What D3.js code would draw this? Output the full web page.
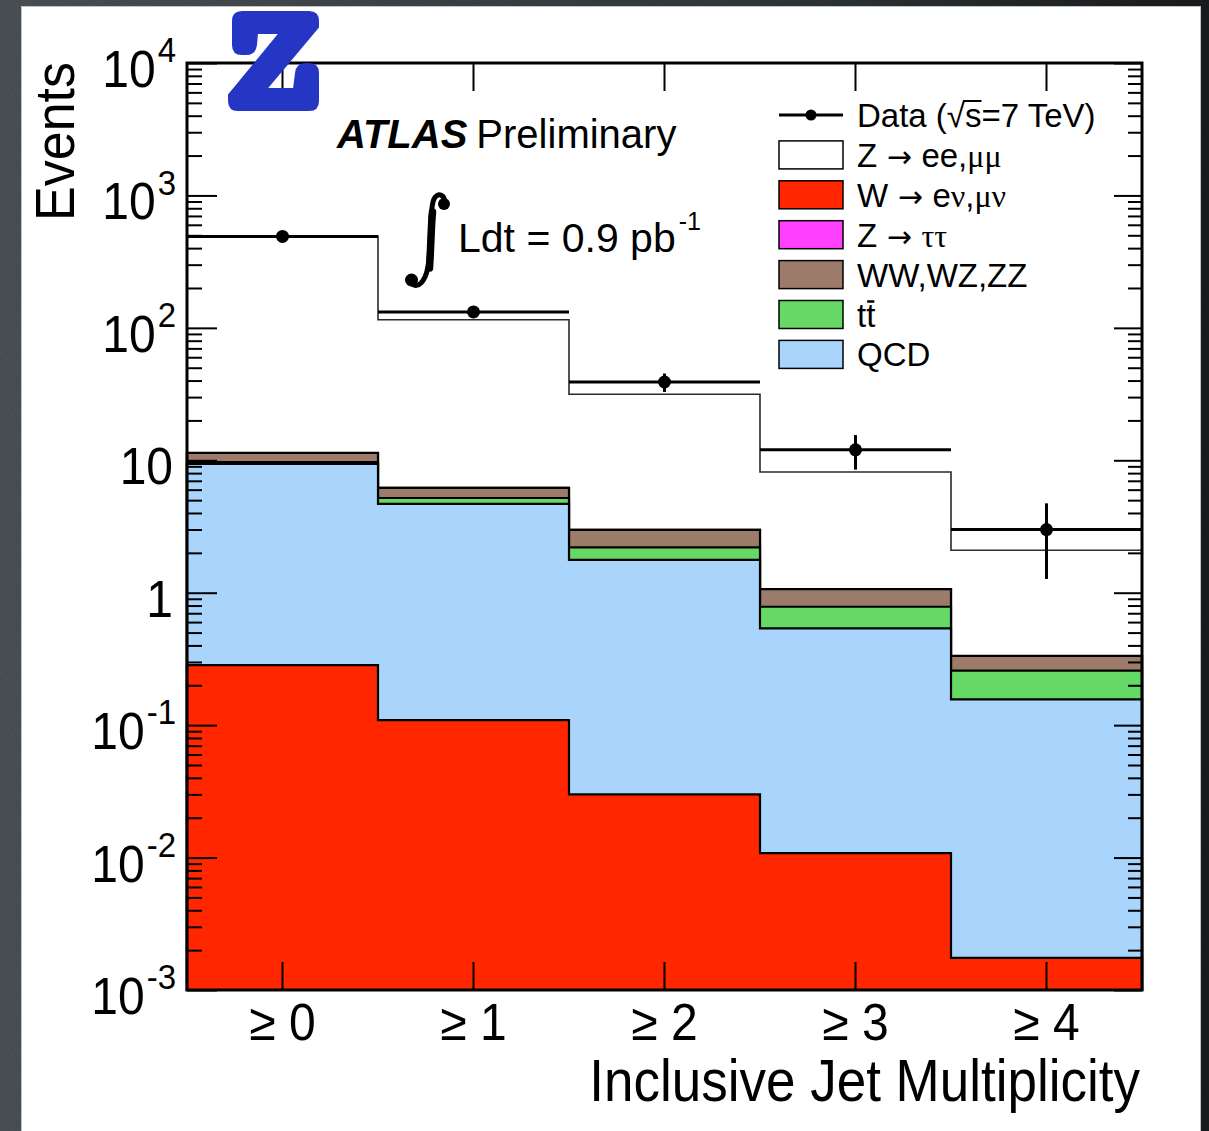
<!DOCTYPE html>
<html>
<head>
<meta charset="utf-8">
<script src="https://cdn.jsdelivr.net/npm/d3@7"></script>
<style>
  html, body { margin: 0; padding: 0; background: #3a3f42; }
  svg { display: block; }
  text { font-family: "Liberation Sans", Arial, Helvetica, sans-serif; fill: #000; }
</style>
</head>
<body>
<svg id="chart" width="1209" height="1131"></svg>
<script>
// Inclusive jet multiplicity in Z -> ll events, stacked expectation vs data
const categories = ["\u2265 0", "\u2265 1", "\u2265 2", "\u2265 3", "\u2265 4"];

const dataCounts = [490, 132, 39, 12, 3];
const dataErr    = [22, 11.5, 6.2, 3.5, 1.73];

// Expected contributions per bin (events)
const zllValues     = [483, 109, 28.5, 7.1, 1.76];
const zttValues     = [0.03, 0.01, 0.004, 0.0015, 0.0005];
const dibosonValues = [1.65, 0.99, 0.78, 0.28, 0.075];
const ttbarValues   = [0.32, 0.51, 0.43, 0.246, 0.101];
const qcdValues     = [9.10, 4.57, 1.74, 0.527, 0.155];
const wValues       = [0.284, 0.109, 0.030, 0.0108, 0.00175];

const seriesKeys   = ["W", "QCD", "ttbar", "diboson", "Ztautau", "Zll"]; // bottom -> top
const seriesColors = ["#ff2600", "#a9d5fd", "#66d866", "#9c7b6a", "#ff40ff", "#ffffff"];

const legendLabels = ["Z \u2192 ee,\u03bc\u03bc", "W \u2192 e\u03bd,\u03bc\u03bd", "Z \u2192 \u03c4\u03c4", "WW,WZ,ZZ", "tt", "QCD"];
const legendColors = ["#ffffff", "#ff2600", "#ff40ff", "#9c7b6a", "#66d866", "#a9d5fd"];

const yMajorTicks = [1e-3, 1e-2, 1e-1, 1, 10, 1e2, 1e3, 1e4];
const yTickBase   = ["10", "10", "10", "1", "10", "10", "10", "10"];
const yTickExp    = ["-3", "-2", "-1", "", "", "2", "3", "4"];

const W = 1209, H = 1131;
const plot = { left: 187, right: 1142, top: 63, bottom: 990 };

const svg = d3.select("#chart");
const defs = svg.append("defs");

// ---- backdrop: dark slate with grain, white sheet on top
const bg = defs.append("linearGradient").attr("id", "bgGrad").attr("x1", 0).attr("x2", 1).attr("y1", 0).attr("y2", 0);
bg.append("stop").attr("offset", "0%").attr("stop-color", "#50575b");
bg.append("stop").attr("offset", "60%").attr("stop-color", "#383d40");
bg.append("stop").attr("offset", "100%").attr("stop-color", "#1b1e20");
const grain = defs.append("filter").attr("id", "grain").attr("x", 0).attr("y", 0).attr("width", "100%").attr("height", "100%");
grain.append("feTurbulence").attr("type", "fractalNoise").attr("baseFrequency", 0.8).attr("numOctaves", 2).attr("seed", 3);
grain.append("feColorMatrix").attr("type", "matrix")
  .attr("values", "0 0 0 0 0  0 0 0 0 0  0 0 0 0 0  0 0 0 0.35 0");

svg.append("rect").attr("width", W).attr("height", H).attr("fill", "url(#bgGrad)");
svg.append("rect").attr("width", W).attr("height", H).attr("filter", "url(#grain)").attr("opacity", 0.6);
svg.append("rect").attr("x", 21).attr("y", 6).attr("width", 1180).attr("height", H).attr("fill", "#bfc3c5");
svg.append("rect").attr("x", 22).attr("y", 7).attr("width", 1178).attr("height", H).attr("fill", "#ffffff");

// ---- scales
const x = d3.scaleBand().domain(categories).range([plot.left, plot.right]).paddingInner(0).paddingOuter(0);
const y = d3.scaleLog().domain([1e-3, 1e4]).range([plot.bottom, plot.top]);
const yBase = y(1e-3);

// ---- stacked histograms
const rows = categories.map((c, i) => ({
  W: wValues[i], QCD: qcdValues[i], ttbar: ttbarValues[i],
  diboson: dibosonValues[i], Ztautau: zttValues[i], Zll: zllValues[i]
}));
const stacked = d3.stack().keys(seriesKeys)(rows);

const line = d3.line();
function stepOutline(tops) {
  const pts = [[x(categories[0]), yBase]];
  categories.forEach((c, i) => {
    pts.push([x(c), y(tops[i])]);
    pts.push([x(c) + x.bandwidth(), y(tops[i])]);
  });
  pts.push([x(categories[categories.length - 1]) + x.bandwidth(), yBase]);
  return line(pts) + "Z";
}

const histG = svg.append("g");
// Cumulative histograms drawn from the top of the stack downwards
for (let k = stacked.length - 1; k >= 0; k--) {
  const tops = stacked[k].map(d => d[1]);
  const isTop = seriesKeys[k] === "Zll";
  histG.append("path")
    .attr("d", stepOutline(tops))
    .attr("fill", seriesColors[k])
    .attr("stroke", isTop ? "#2a2a2a" : "#000")
    .attr("stroke-width", isTop ? 1.6 : 2.2)
    .attr("stroke-linejoin", "miter");
}

// ---- data points with error bars
const dataG = svg.append("g");
categories.forEach((c, i) => {
  const cx = x(c) + x.bandwidth() / 2;
  const cy = y(dataCounts[i]);
  dataG.append("line").attr("x1", x(c)).attr("x2", x(c) + x.bandwidth())
    .attr("y1", cy).attr("y2", cy).attr("stroke", "#000").attr("stroke-width", 3);
  dataG.append("line").attr("x1", cx).attr("x2", cx)
    .attr("y1", y(dataCounts[i] + dataErr[i])).attr("y2", y(dataCounts[i] - dataErr[i]))
    .attr("stroke", "#000").attr("stroke-width", 3);
  dataG.append("circle").attr("cx", cx).attr("cy", cy).attr("r", 6.5).attr("fill", "#000");
});

// ---- axes (ticks on all four sides)
const minorTicks = [];
for (let e = -3; e < 4; e++) for (let m = 2; m <= 9; m++) minorTicks.push(m * Math.pow(10, e));

const axG = svg.append("g");
axG.append("g").attr("transform", `translate(${plot.left},0)`)
  .call(d3.axisLeft(y).tickValues(yMajorTicks).tickSize(-30).tickFormat(""));
axG.append("g").attr("transform", `translate(${plot.left},0)`)
  .call(d3.axisLeft(y).tickValues(minorTicks).tickSize(-15).tickFormat(""));
axG.append("g").attr("transform", `translate(${plot.right},0)`)
  .call(d3.axisRight(y).tickValues(yMajorTicks).tickSize(-28).tickFormat(""));
axG.append("g").attr("transform", `translate(${plot.right},0)`)
  .call(d3.axisRight(y).tickValues(minorTicks).tickSize(-14).tickFormat(""));
axG.append("g").attr("transform", `translate(0,${plot.bottom})`)
  .call(d3.axisBottom(x).tickSize(-28).tickFormat(""));
axG.append("g").attr("transform", `translate(0,${plot.top})`)
  .call(d3.axisTop(x).tickSize(-28).tickFormat(""));
axG.selectAll(".domain").remove();
axG.selectAll(".tick line").attr("stroke", "#000").attr("stroke-width", 2);

svg.append("rect").attr("x", plot.left).attr("y", plot.top)
  .attr("width", plot.right - plot.left).attr("height", plot.bottom - plot.top)
  .attr("fill", "none").attr("stroke", "#000").attr("stroke-width", 3);

// y tick labels with exponents
const yLab = svg.append("g");
yMajorTicks.forEach((v, i) => {
  const t = yLab.append("text")
    .attr("transform", `translate(${yTickExp[i] ? 176 : 173},${y(v) + 24}) scale(1,1.08)`)
    .attr("text-anchor", "end").attr("font-size", 48).text(yTickBase[i]);
  if (yTickExp[i]) {
    t.append("tspan").attr("font-size", 33).attr("dx", 2).attr("dy", -23).text(yTickExp[i]);
  }
});

// x tick labels
categories.forEach(c => {
  svg.append("text")
    .attr("transform", `translate(${x(c) + x.bandwidth() / 2},1040) scale(1,1.08)`)
    .attr("text-anchor", "middle").attr("font-size", 48).text(c);
});

// axis titles
svg.append("text").attr("transform", "translate(1140,1101) scale(1,1.1)")
  .attr("text-anchor", "end").attr("font-size", 53).text("Inclusive Jet Multiplicity");
svg.append("text").attr("transform", "translate(74,62) rotate(-90) scale(1,1.08)")
  .attr("text-anchor", "end").attr("font-size", 52).text("Events");

// ---- annotations
const atlas = svg.append("text").attr("x", 337).attr("y", 148).attr("font-size", 40);
atlas.append("tspan").attr("font-weight", "bold").attr("font-style", "italic").text("ATLAS");
atlas.append("tspan").attr("dx", 9).text("Preliminary");

// luminosity: integral sign drawn as a stroked curve with ball terminals
svg.append("path")
  .attr("d", "M444,204 C446,194 437,192 434,199 C430,208 431,228 430,245 C429,262 428,276 421,283 C417,287 412,286 411,281")
  .attr("fill", "none").attr("stroke", "#000").attr("stroke-width", 5).attr("stroke-linecap", "round");
svg.append("path")
  .attr("d", "M432.5,212 C431,228 431,245 429.5,268")
  .attr("fill", "none").attr("stroke", "#000").attr("stroke-width", 7.5).attr("stroke-linecap", "round");
svg.append("circle").attr("cx", 444).attr("cy", 204).attr("r", 6).attr("fill", "#000");
svg.append("circle").attr("cx", 411.5).attr("cy", 280).attr("r", 6.5).attr("fill", "#000");
const lumi = svg.append("text").attr("x", 458).attr("y", 252).attr("font-size", 41).text("Ldt = 0.9 pb");
lumi.append("tspan").attr("font-size", 25).attr("dx", 3).attr("dy", -22).text("-1");

// ---- legend
const leg = svg.append("g");
const legX = 779, legBoxW = 64, legBoxH = 28, legTextX = 857, legRow0 = 115, legStep = 39.9;
leg.append("line").attr("x1", legX).attr("x2", legX + legBoxW).attr("y1", legRow0).attr("y2", legRow0)
  .attr("stroke", "#000").attr("stroke-width", 3);
leg.append("circle").attr("cx", legX + legBoxW / 2).attr("cy", legRow0).attr("r", 5.5).attr("fill", "#000");
const dataLabel = leg.append("text").attr("x", legTextX).attr("y", legRow0 + 12).attr("font-size", 33)
  .text("Data (\u221as=7 TeV)");

legendLabels.forEach((lab, i) => {
  const cy = legRow0 + legStep * (i + 1);
  leg.append("rect").attr("x", legX).attr("y", cy - legBoxH / 2).attr("width", legBoxW).attr("height", legBoxH)
    .attr("fill", legendColors[i]).attr("stroke", "#000").attr("stroke-width", 1.5);
  const t = leg.append("text").attr("x", legTextX).attr("y", cy + 12).attr("font-size", 33);
  // arrows and Greek letters are set in their own faces
  const parts = lab.split(/([\u03bc\u03bd\u03c4]+| \u2192 )/);
  parts.forEach(p => {
    if (!p) return;
    const s = t.append("tspan").text(p);
    if (/[\u03bc\u03bd\u03c4]/.test(p)) {
      s.attr("font-family", "'Liberation Serif', 'Times New Roman', serif").attr("font-size", 32);
    } else if (p.indexOf("\u2192") >= 0) {
      s.attr("font-family", "'DejaVu Sans', sans-serif").attr("font-size", 30);
    }
  });
  if (lab === "tt") {
    // bar over the second t
    const node = t.node();
    const ext = node.getExtentOfChar(1);
    leg.append("line").attr("x1", ext.x + 1).attr("x2", ext.x + ext.width - 1)
      .attr("y1", cy - 13).attr("y2", cy - 13).attr("stroke", "#000").attr("stroke-width", 2.5);
  }
});

// overbar of the square root in the data label
{
  const node = dataLabel.node();
  const ext = node.getExtentOfChar(7);
  const rootExt = node.getExtentOfChar(6);
  leg.append("line").attr("x1", rootExt.x + rootExt.width - 2).attr("x2", ext.x + ext.width)
    .attr("y1", legRow0 - 14).attr("y2", legRow0 - 14).attr("stroke", "#000").attr("stroke-width", 2);
}

// ---- boson emblem
svg.append("path")
  .attr("d", "M242,12 L309,12 Q318,12 318,21 L318,27 L266,89 L294,89 L296,73 Q297,64 306,64 L309,64 Q318,64 318,73 L318,101 Q318,110 309,110 L238,110 Q229,110 229,101 L229,95 L280,33 L257,33 L256,45 Q255,54 246,54 L242,54 Q233,54 233,45 L233,21 Q233,12 242,12 Z")
  .attr("fill", "#2436c3").attr("stroke", "#2436c3").attr("stroke-width", 2).attr("stroke-linejoin", "round");
</script>
</body>
</html>
